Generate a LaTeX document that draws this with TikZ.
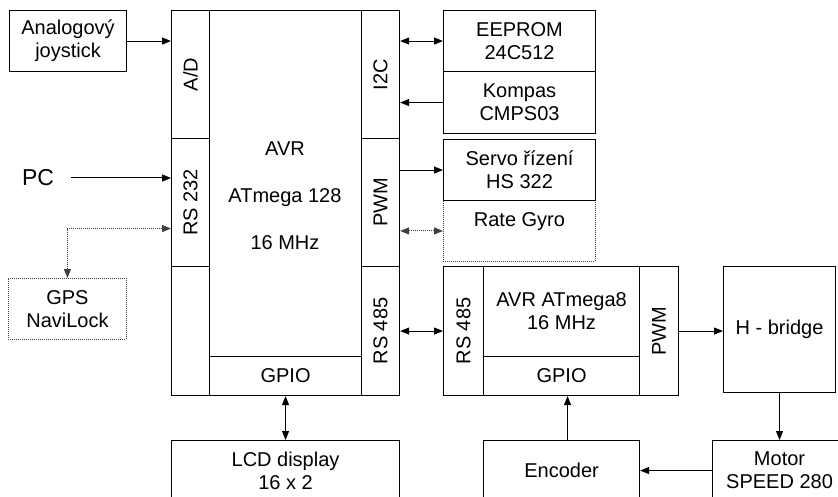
\documentclass[tikz,border=0pt]{standalone}
\usepackage{fontspec}
\setmainfont{Liberation Sans}
\usepackage{graphicx}
\usepackage{tikz}
\usetikzlibrary{positioning,arrows.meta,calc}
\newcommand{\blkfont}{\fontsize{20}{23}\selectfont}
\tikzset{
  blk/.style={draw, line width=1.1pt, inner sep=0pt, anchor=north west,
              align=center, font=\blkfont},
  optblk/.style={blk, draw=black!75, line width=0.9pt, dash pattern=on 1pt off 1pt},
  arr/.style={-{Triangle[length=9pt,width=7pt]}, line width=1pt},
  arrboth/.style={{Triangle[length=9pt,width=7pt]}-{Triangle[length=9pt,width=7pt]}, line width=1pt},
  dotarr/.style={arrboth, draw=black!75, line width=0.9pt, dash pattern=on 1pt off 1pt}
}
\begin{document}
\begin{tikzpicture}[x=1pt, y=-1pt]
    \useasboundingbox (0,0) rectangle (838,497);
    \clip (0,0) rectangle (838,497);
    % AVR ATmega 128
    \node[blk, minimum width=38pt, minimum height=128pt] (ad) at (171,10) {\rotatebox{90}{A/D}};
    \node[blk, minimum width=38pt, minimum height=128pt] (rs232) at (171,138) {\rotatebox{90}{RS 232}};
    \node[blk, minimum width=38pt, minimum height=129pt] (lfree) at (171,266) {};
    \node[blk, minimum width=38pt, minimum height=128pt] (i2c) at (361,10) {\rotatebox{90}{I2C}};
    \node[blk, minimum width=38pt, minimum height=128pt] (pwm) at (361,138) {\rotatebox{90}{PWM}};
    \node[blk, minimum width=38pt, minimum height=129pt] (rs485a) at (361,266) {\rotatebox{90}{RS 485}};
    \node[blk, minimum width=152pt, minimum height=346pt] (core) at (209,10) {};
    \node[blk, minimum width=152pt, minimum height=39pt] (gpio) at (209,356) {GPIO};
    \node[align=center, font=\fontsize{20}{47}\selectfont] (cputxt) at (285,196) {AVR\\ATmega 128\\16 MHz};
    % left side
    \node[blk, minimum width=117pt, minimum height=61pt] (joy) at (9,10) {Analogový\\joystick};
    \node[inner sep=0pt, font=\fontsize{23}{26}\selectfont] (pc) at (38,178) {PC};
    \node[optblk, minimum width=118pt, minimum height=61pt] (gps) at (8,278) {GPS\\NaviLock};
    % right side
    \node[blk, minimum width=152pt, minimum height=61pt] (eeprom) at (443,10) {EEPROM\\24C512};
    \node[blk, minimum width=152pt, minimum height=62pt] (kompas) at (443,71) {Kompas\\CMPS03};
    \node[optblk, minimum width=152pt, minimum height=61pt] (gyro) at (443,200) {Rate Gyro\\~};
    \node[blk, minimum width=152pt, minimum height=61pt] (servo) at (443,139) {Servo řízení\\HS 322};
    % AVR ATmega8
    \node[blk, minimum width=40pt, minimum height=129pt] (m8rs) at (443,266) {\rotatebox{90}{RS 485}};
    \node[blk, minimum width=156pt, minimum height=90pt] (m8core) at (483,266) {AVR ATmega8\\16 MHz};
    \node[blk, minimum width=156pt, minimum height=39pt] (m8gpio) at (483,356) {GPIO};
    \node[blk, minimum width=39pt, minimum height=129pt] (m8pwm) at (639,266) {\rotatebox{90}{PWM}};
    \node[blk, minimum width=112pt, minimum height=126pt] (hb) at (723,266) {H - bridge};
    % bottom row
    \node[blk, minimum width=134pt, minimum height=60pt] (motor) at (712,440) {Motor\\SPEED 280};
    \node[blk, minimum width=156pt, minimum height=60pt] (enc) at (483,440) {Encoder};
    \node[blk, minimum width=228pt, minimum height=60pt] (lcd) at (171,440) {LCD display\\16 x 2};
    % connections
    \draw[arr] (joy.east) -- (joy.east -| ad.west);
    \draw[arr] ([xshift=17pt]pc.east) -- (pc.east -| rs232.west);
    \draw[dotarr] (gps.north) |- ([yshift=-26pt]rs232.west);
    \draw[arrboth] (eeprom.west) -- (eeprom.west -| i2c.east);
    \draw[arr] (kompas.west) -- (kompas.west -| i2c.east);
    \draw[arr] (servo.west -| pwm.east) -- (servo.west);
    \draw[dotarr] (gyro.west) -- (gyro.west -| pwm.east);
    \draw[arrboth] (m8rs.west) -- (m8rs.west -| rs485a.east);
    \draw[arr] (m8pwm.east) -- (m8pwm.east -| hb.west);
    \draw[arr] (hb.south) -- (hb.south |- motor.north);
    \draw[arr] (motor.west) -- (motor.west -| enc.east);
    \draw[arr] ([xshift=6pt]enc.north) -- ([xshift=6pt]enc.north |- m8gpio.south);
    \draw[arrboth] (gpio.south) -- (gpio.south |- lcd.north);
  \end{tikzpicture}
\end{document}
